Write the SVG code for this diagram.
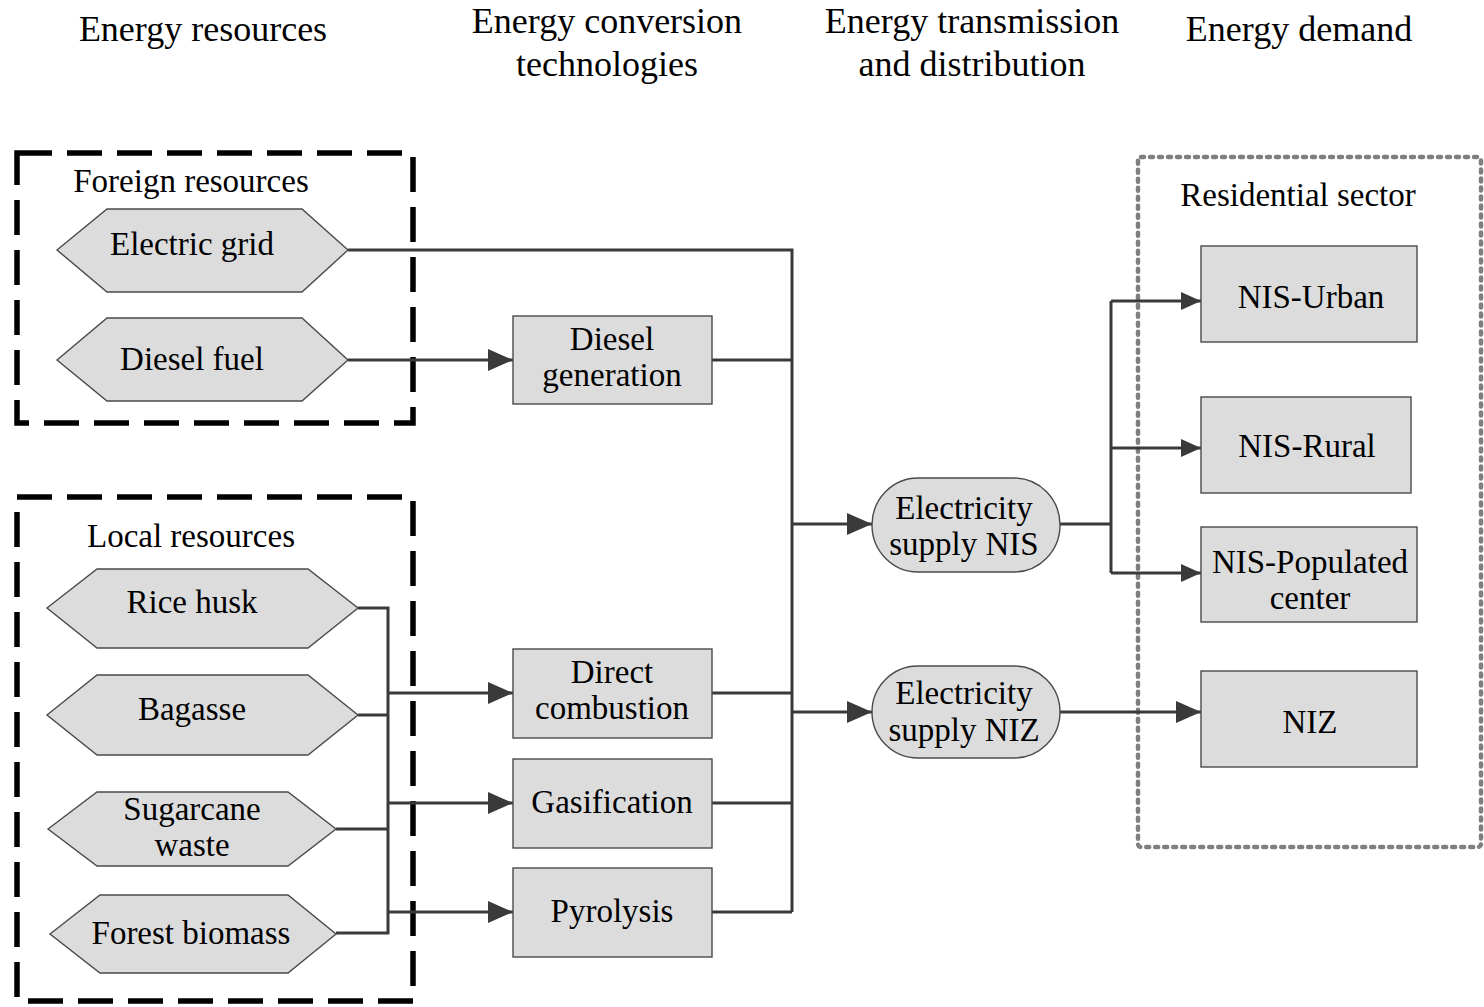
<svg xmlns="http://www.w3.org/2000/svg" width="1484" height="1007" viewBox="0 0 1484 1007">
<style>
text{font-family:"Liberation Serif","Times New Roman",serif;fill:#000;text-anchor:middle}
.hdr{font-size:36px}
.lbl{font-size:33px}
.node{fill:#dcdcdc;stroke:#4a4a4a;stroke-width:1.4}
.conn{fill:none;stroke:#3a3a3a;stroke-width:3}
.grp{fill:none;stroke:#000;stroke-width:5.5;stroke-dasharray:35 15}
.res{fill:none;stroke:#7f7f7f;stroke-width:4.5;stroke-dasharray:3 6;stroke-linecap:round}
</style>
<defs>
<marker id="ab" markerUnits="userSpaceOnUse" markerWidth="26" markerHeight="24" refX="25" refY="12" orient="auto">
<path d="M0,1 L25,12 L0,23 z" fill="#3a3a3a"/>
</marker>
<marker id="as" markerUnits="userSpaceOnUse" markerWidth="21" markerHeight="20" refX="20" refY="10" orient="auto">
<path d="M0,1 L20,10 L0,19 z" fill="#3a3a3a"/>
</marker>
</defs>
<rect width="1484" height="1007" fill="#fff"/>

<g id="headers">
<text class="hdr" x="203" y="41">Energy resources</text>
<text class="hdr" x="607" y="33">Energy conversion</text>
<text class="hdr" x="607" y="76">technologies</text>
<text class="hdr" x="972" y="33">Energy transmission</text>
<text class="hdr" x="972" y="76">and distribution</text>
<text class="hdr" x="1299" y="41">Energy demand</text>
</g>

<g id="foreign-resources">
<rect class="grp" x="17" y="153" width="396" height="270"/>
<text class="lbl" x="191" y="192">Foreign resources</text>
</g>
<g id="local-resources">
<rect class="grp" x="17" y="497" width="396" height="504"/>
<text class="lbl" x="191" y="547">Local resources</text>
</g>
<g id="residential-sector">
<rect class="res" x="1138" y="157" width="343" height="690" rx="3"/>
<text class="lbl" x="1298" y="206">Residential sector</text>
</g>

<g id="connectors">
<polyline class="conn" points="348,250 792,250 792,912"/>
<line class="conn" x1="348" y1="360" x2="513" y2="360" marker-end="url(#ab)"/>
<line class="conn" x1="712" y1="360" x2="792" y2="360"/>
<line class="conn" x1="712" y1="693" x2="792" y2="693"/>
<line class="conn" x1="712" y1="803" x2="792" y2="803"/>
<line class="conn" x1="712" y1="912" x2="792" y2="912"/>
<line class="conn" x1="792" y1="524" x2="872" y2="524" marker-end="url(#ab)"/>
<line class="conn" x1="792" y1="712" x2="872" y2="712" marker-end="url(#ab)"/>
<polyline class="conn" points="358,608 388,608 388,933 336,933"/>
<line class="conn" x1="358" y1="715" x2="388" y2="715"/>
<line class="conn" x1="336" y1="829" x2="388" y2="829"/>
<line class="conn" x1="388" y1="693" x2="513" y2="693" marker-end="url(#ab)"/>
<line class="conn" x1="388" y1="803" x2="513" y2="803" marker-end="url(#ab)"/>
<line class="conn" x1="388" y1="912" x2="513" y2="912" marker-end="url(#ab)"/>
<line class="conn" x1="1060" y1="524" x2="1111" y2="524"/>
<line class="conn" x1="1111" y1="301" x2="1111" y2="573"/>
<line class="conn" x1="1111" y1="301" x2="1201" y2="301" marker-end="url(#as)"/>
<line class="conn" x1="1111" y1="448" x2="1201" y2="448" marker-end="url(#as)"/>
<line class="conn" x1="1111" y1="573" x2="1201" y2="573" marker-end="url(#as)"/>
<line class="conn" x1="1060" y1="712" x2="1201" y2="712" marker-end="url(#ab)"/>
</g>

<g id="electric-grid">
<polygon class="node" points="57,250 107,209 302,209 348,250 302,292 107,292"/>
<text class="lbl" x="192" y="255">Electric grid</text>
</g>
<g id="diesel-fuel">
<polygon class="node" points="57,360 107,318 302,318 348,360 302,401 107,401"/>
<text class="lbl" x="192" y="370">Diesel fuel</text>
</g>
<g id="rice-husk">
<polygon class="node" points="47,608 97,569 308,569 358,608 308,648 97,648"/>
<text class="lbl" x="192" y="613">Rice husk</text>
</g>
<g id="bagasse">
<polygon class="node" points="47,715 97,675 308,675 358,715 308,755 97,755"/>
<text class="lbl" x="192" y="720">Bagasse</text>
</g>
<g id="sugarcane-waste">
<polygon class="node" points="48,829 97,792 288,792 336,829 288,866 97,866"/>
<text class="lbl" x="192" y="820">Sugarcane</text>
<text class="lbl" x="192" y="856">waste</text>
</g>
<g id="forest-biomass">
<polygon class="node" points="50,934 100,895 288,895 336,934 288,973 100,973"/>
<text class="lbl" x="191" y="944">Forest biomass</text>
</g>

<g id="diesel-generation">
<rect class="node" x="513" y="316" width="199" height="88"/>
<text class="lbl" x="612" y="350">Diesel</text>
<text class="lbl" x="612" y="386">generation</text>
</g>
<g id="direct-combustion">
<rect class="node" x="513" y="649" width="199" height="89"/>
<text class="lbl" x="612" y="683">Direct</text>
<text class="lbl" x="612" y="719">combustion</text>
</g>
<g id="gasification">
<rect class="node" x="513" y="759" width="199" height="89"/>
<text class="lbl" x="612" y="813">Gasification</text>
</g>
<g id="pyrolysis">
<rect class="node" x="513" y="868" width="199" height="89"/>
<text class="lbl" x="612" y="922">Pyrolysis</text>
</g>

<g id="electricity-supply-nis">
<rect class="node" x="872" y="478" width="188" height="94" rx="46" ry="47"/>
<text class="lbl" x="964" y="519">Electricity</text>
<text class="lbl" x="964" y="555">supply NIS</text>
</g>
<g id="electricity-supply-niz">
<rect class="node" x="872" y="666" width="188" height="92" rx="46" ry="46"/>
<text class="lbl" x="964" y="704">Electricity</text>
<text class="lbl" x="964" y="741">supply NIZ</text>
</g>

<g id="nis-urban">
<rect class="node" x="1201" y="246" width="216" height="96"/>
<text class="lbl" x="1311" y="308">NIS-Urban</text>
</g>
<g id="nis-rural">
<rect class="node" x="1201" y="397" width="210" height="96"/>
<text class="lbl" x="1307" y="457">NIS-Rural</text>
</g>
<g id="nis-populated-center">
<rect class="node" x="1201" y="527" width="216" height="95"/>
<text class="lbl" x="1310" y="573">NIS-Populated</text>
<text class="lbl" x="1310" y="609">center</text>
</g>
<g id="niz">
<rect class="node" x="1201" y="671" width="216" height="96"/>
<text class="lbl" x="1310" y="733">NIZ</text>
</g>
</svg>
